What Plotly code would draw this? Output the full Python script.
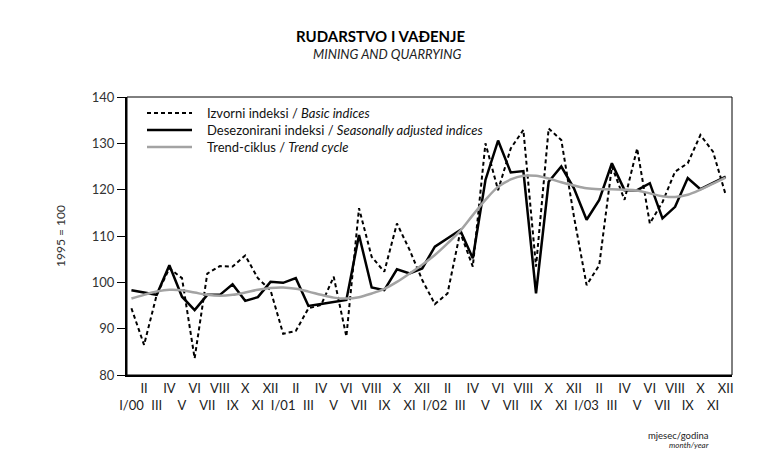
import plotly.graph_objects as go

# page geometry (the page body adds an 8px margin, so the figure is 8px smaller)
OFF = 8
W, H = 768 - OFF, 459 - OFF
PLOT_L, PLOT_R, PLOT_T, PLOT_B = 127, 732, 97, 375   # page pixel positions of the plot box
ML, MT = PLOT_L - OFF, PLOT_T - OFF
MR, MB = W - (PLOT_R - OFF), H - (PLOT_B - OFF)
PW, PH = PLOT_R - PLOT_L, PLOT_B - PLOT_T


def fx(px):
    return (px - PLOT_L) / PW


def fy(py):
    return 1 - (py - PLOT_T) / PH


roman = ["I", "II", "III", "IV", "V", "VI", "VII", "VIII", "IX", "X", "XI", "XII"]
years = ["00", "01", "02", "03"]
month_idx = list(range(48))
month_labels = []
for y in years:
    for m, r in enumerate(roman):
        month_labels.append(f"{r}/{y}" if m == 0 else r)

basic = [94.4, 86.5, 97.3, 103.0, 100.9, 83.6, 101.9, 103.5, 103.4, 105.8, 100.9, 98.3,
         88.9, 89.5, 94.4, 95.1, 101.2, 88.3, 116.0, 105.5, 102.3, 112.7, 107.0, 100.5,
         95.3, 97.6, 110.8, 103.4, 130.0, 119.9, 128.9, 132.9, 103.4, 133.2, 130.7, 114.2,
         99.4, 103.7, 125.0, 117.8, 128.9, 112.7, 117.3, 123.9, 125.7, 131.8, 128.2, 118.9]

seas_adj = [98.3, 97.8, 97.3, 103.7, 96.9, 94.0, 97.3, 97.3, 99.6, 96.0, 96.8, 100.1,
            99.9, 100.9, 94.9, 95.3, 95.8, 96.2, 110.2, 98.9, 98.3, 102.8, 101.9, 103.0,
            107.7, 109.5, 111.3, 105.2, 122.1, 130.6, 123.7, 124.0, 97.6, 121.7, 125.0, 120.3,
            113.5, 117.8, 125.7, 119.9, 119.9, 121.4, 113.8, 116.3, 122.5, 120.1, 121.4, 122.8]

trend = [96.5, 97.3, 98.0, 98.4, 98.3, 97.8, 97.3, 97.1, 97.3, 97.8, 98.4, 98.8,
         98.9, 98.6, 98.0, 97.3, 96.7, 96.5, 96.8, 97.6, 98.6, 100.1, 101.9, 103.8,
         105.9, 108.4, 111.1, 114.5, 117.8, 120.6, 122.2, 123.0, 123.0, 122.4, 121.6, 120.9,
         120.3, 120.1, 120.1, 120.0, 119.8, 119.2, 118.6, 118.4, 118.9, 120.0, 121.3, 122.6]

ytick_vals = [80, 90, 100, 110, 120, 130, 140]

series_names = ["Izvorni indeksi / <i>Basic indices</i>",
                "Desezonirani indeksi / <i>Seasonally adjusted indices</i>",
                "Trend-ciklus / <i>Trend cycle</i>"]
series_lines = [dict(color="black", width=2, dash="4px,3px"),
                dict(color="black", width=2.5),
                dict(color="#a3a3a3", width=2.5)]

tick_text = [lab if i % 2 == 1 else "<br>" + lab for i, lab in enumerate(month_labels)]

FONT = "Lato"

fig = go.Figure()
for vals, name, ln in zip([basic, seas_adj, trend], series_names, series_lines):
    line = dict(ln)
    if vals is trend:
        line["shape"] = "spline"
    fig.add_trace(go.Scatter(x=month_idx, y=vals, mode="lines", name=name,
                             line=line, showlegend=False))

fig.update_layout(
    width=W, height=H,
    margin=dict(l=ML, r=MR, t=MT, b=MB, pad=0),
    paper_bgcolor="white", plot_bgcolor="white",
    font=dict(family=FONT, size=12, color="#222"),
    xaxis=dict(range=[-0.35, 47.5], tickmode="array", tickvals=month_idx,
               ticktext=tick_text, ticks="", showgrid=False, zeroline=False,
               showline=True, linecolor="black", linewidth=2,
               tickfont=dict(size=13, color="#222"), tickangle=0),
    yaxis=dict(range=[80, 140], tickmode="array", tickvals=ytick_vals,
               ticks="outside", ticklen=8, tickcolor="black", tickwidth=1, showgrid=False,
               zeroline=False, showline=True, linecolor="black", linewidth=2,
               tickfont=dict(size=13, color="#333"),
               title=dict(text="1995 = 100", font=dict(size=12, color="#333"), standoff=24)),
)

# plot frame (thin top/right)
fig.add_shape(type="rect", xref="paper", yref="paper", x0=0, y0=0, x1=1, y1=1,
              line=dict(color="black", width=1), layer="above")

# legend (drawn as samples + text)
leg_rows = [113, 130, 147]
for row, name, ln in zip(leg_rows, series_names, series_lines):
    fig.add_shape(type="line", xref="paper", yref="paper",
                  x0=fx(147), x1=fx(192), y0=fy(row), y1=fy(row), line=ln)
    fig.add_annotation(text=name, xref="paper", yref="paper", x=fx(205), y=fy(row),
                       xanchor="left", yanchor="middle", showarrow=False,
                       font=dict(size=13, color="#111"))

fig.add_annotation(text="<b>RUDARSTVO I VAĐENJE</b>", xref="paper", yref="paper",
                   x=fx(381), y=fy(36), showarrow=False,
                   font=dict(size=15, color="black"), xanchor="center", yanchor="middle")
fig.add_annotation(text="<i>MINING AND QUARRYING</i>", xref="paper", yref="paper",
                   x=fx(387), y=fy(54), showarrow=False,
                   font=dict(size=13, color="#222"), xanchor="center", yanchor="middle")
fig.add_annotation(text="mjesec/godina", xref="paper", yref="paper",
                   x=fx(711), y=fy(435), showarrow=False,
                   font=dict(size=9.5, color="#222"), xanchor="right", yanchor="middle")
fig.add_annotation(text="<i>month/year</i>", xref="paper", yref="paper",
                   x=fx(711), y=fy(445), showarrow=False,
                   font=dict(size=8, color="#222"), xanchor="right", yanchor="middle")

fig.write_html("out.html")
